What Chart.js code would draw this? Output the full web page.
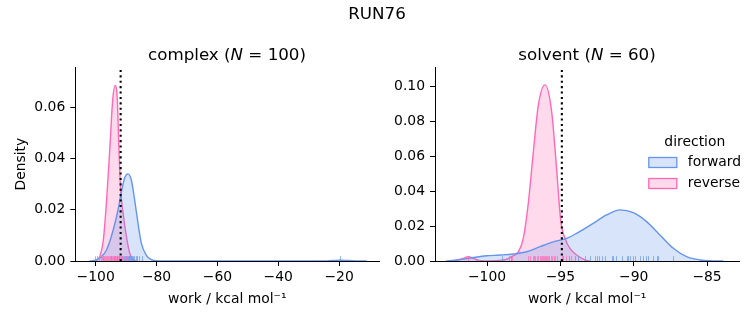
<!DOCTYPE html>
<html><head><meta charset="utf-8">
<script src="https://cdn.jsdelivr.net/npm/chart.js@4/dist/chart.umd.min.js"></script>
<style>
body{margin:0;background:#fff;width:753px;height:325px;overflow:hidden;position:relative;font-family:'DejaVu Sans',sans-serif;}
canvas{position:absolute;top:0;}
.t{position:absolute;transform:translate(-50%,-50%);font-size:16.7px;line-height:1;white-space:nowrap;color:#000;}
</style></head><body>
<canvas id="c1" width="390" height="325" style="left:0"></canvas>
<canvas id="c2" width="363" height="325" style="left:390px"></canvas>
<div class="t" style="left:377px;top:13px">RUN76</div>
<div class="t" style="left:227px;top:54px">complex (<i>N</i> = 100)</div>
<div class="t" style="left:587px;top:54px">solvent (<i>N</i> = 60)</div>
<script>
// ---------- data ----------
const seriesNames = ['forward', 'reverse'];
const suptitle = 'RUN76';

// complex panel: KDE curves
const complexForwardX = [-102, -100, -98.6, -96.45, -94.27, -92.65, -91.55, -90.46, -89.37, -88.28, -87.19, -86.1, -85.0, -83.4, -81.7, -80.1, -78, -28, -25, -22, -19.5, -17, -14, -11];
const complexForwardY = [0, 0.0003, 0.0012, 0.0043, 0.012, 0.020, 0.027, 0.0325, 0.034, 0.0316, 0.0238, 0.0148, 0.0070, 0.0023, 0.0005, 0.0001, 0, 0, 0.00005, 0.0002, 0.0003, 0.0002, 0.00005, 0];
const complexReverseX = [-101, -99.7, -98.6, -97.5, -96.4, -95.4, -94.4, -93.6, -92.9, -92.4, -91.8, -91.0, -89.9, -88.8, -87.7, -86.5];
const complexReverseY = [0, 0.0005, 0.002, 0.008, 0.024, 0.043, 0.063, 0.0685, 0.063, 0.045, 0.028, 0.0187, 0.0095, 0.003, 0.0005, 0];
const complexForwardRug = [-97.5, -95.0, -93.8, -92.9, -92.2, -91.6, -91.2, -90.8, -90.4, -90.1, -89.8, -89.5, -89.2, -88.9, -88.6, -88.3, -88.0, -87.7, -87.3, -86.9, -86.4, -85.8, -84.9, -19.6];
const complexReverseRug = [-100.3, -99.5, -98.9, -98.2, -97.8, -97.4, -97.0, -96.6, -96.3, -96.0, -95.7, -95.4, -95.1, -94.9, -94.6, -94.4, -94.1, -93.9, -93.6, -93.4, -93.1, -92.8, -92.5, -92.2, -91.9, -91.5, -91.0, -90.2];
const complexRef = -91.8;

// solvent panel
const solventForwardX = [-102.8, -102.0, -100.94, -100.03, -99.12, -98.21, -97.3, -96.39, -95.48, -94.57, -93.89, -92.76, -91.85, -90.94, -90.03, -89.12, -88.21, -87.3, -86.39, -85.48, -84.57, -83.9];
const solventForwardY = [0, 0.0006, 0.002, 0.003, 0.0034, 0.004, 0.0053, 0.0082, 0.011, 0.013, 0.0159, 0.0216, 0.0264, 0.0293, 0.0277, 0.0226, 0.0149, 0.0073, 0.0025, 0.0006, 0.0001, 0];
const solventReverseX = [-102.3, -101.62, -101.28, -100.94, -100.48, -99.8, -99.0, -98.66, -98.32, -97.87, -97.53, -97.19, -96.85, -96.51, -96.05, -95.6, -95.25, -94.98, -94.64, -94.35, -93.89, -93.33, -93.0];
const solventReverseY = [0, 0.0015, 0.0025, 0.0015, 0.0002, 0.0001, 0.0005, 0.001, 0.0025, 0.0053, 0.013, 0.033, 0.062, 0.089, 0.101, 0.086, 0.052, 0.0235, 0.012, 0.0073, 0.0034, 0.0006, 0];
const solventForwardRug = [-99.0, -98.4, -94.8, -94.4, -94.0, -93.78, -93.33, -92.98, -92.64, -92.53, -92.35, -92.19, -91.96, -91.51, -91.4, -91.21, -90.82, -90.48, -90.37, -90.26, -90.07, -89.92, -89.58, -89.35, -89.17, -89.01, -88.67, -88.44, -88.33, -87.31];
const solventReverseRug = [-101.3, -98.5, -98.3, -97.2, -97.05, -96.9, -96.8, -96.7, -96.6, -96.5, -96.42, -96.35, -96.28, -96.2, -96.12, -96.05, -95.98, -95.9, -95.82, -95.75, -95.65, -95.55, -95.45, -95.35, -95.2, -94.9, -94.6, -94.3];
const solventRef = -94.9;

// ticks
const complexXTicks = [-100, -80, -60, -40, -20];
const complexYTicks = [0, 0.02, 0.04, 0.06];
const solventXTicks = [-100, -95, -90, -85];
const solventYTicks = [0, 0.02, 0.04, 0.06, 0.08, 0.10];
const xTitle = 'work / kcal mol\u207B\u00B9';
const yTitle = 'Density';
const legendTitle = 'direction';

// ---------- style ----------
const FONT = "'DejaVu Sans', sans-serif";
Chart.defaults.font.family = FONT;
Chart.defaults.color = '#000';
const COL = {forward: {line: 'rgb(100,149,237)', fill: 'rgba(100,149,237,0.25)', rug: 'rgba(100,149,237,0.7)'},
             reverse: {line: 'rgb(255,105,180)', fill: 'rgba(255,105,180,0.25)', rug: 'rgba(255,105,180,0.7)'}};

const zip = (xs, ys) => xs.map((x, i) => ({x, y: ys[i]}));
const fmtX = v => String(v).replace('-', '\u2212');

const overlayPlugin = {
  id: 'overlay',
  afterDatasetsDraw(chart, args, opts) {
    const {ctx, chartArea: a, scales: {x, y}} = chart;
    ctx.save();
    ctx.beginPath(); ctx.rect(a.left, a.top, a.right - a.left, a.bottom - a.top); ctx.clip();
    const h = (a.bottom - a.top) * 0.025;
    ctx.lineWidth = 1;
    for (const r of opts.rugs) {
      ctx.strokeStyle = r.color;
      for (const v of r.values) {
        const px = Math.round(x.getPixelForValue(v)) + 0.5;
        ctx.beginPath(); ctx.moveTo(px, a.bottom); ctx.lineTo(px, a.bottom - h); ctx.stroke();
      }
    }
    // vertical reference line
    const rx = x.getPixelForValue(opts.ref);
    ctx.strokeStyle = '#000'; ctx.lineWidth = 2.1; ctx.setLineDash([2.1, 3.3]);
    ctx.beginPath(); ctx.moveTo(rx, y.getPixelForValue(y.min)); ctx.lineTo(rx, y.getPixelForValue(y.max)); ctx.stroke();
    ctx.restore();
    if (opts.legend) {
      ctx.save();
      const lx = a.right - 90.5, ty = 142;
      ctx.font = '13.9px ' + FONT; ctx.fillStyle = '#000';
      ctx.textAlign = 'center'; ctx.textBaseline = 'middle';
      ctx.fillText(legendTitle, lx + 46, ty);
      seriesNames.forEach((n, i) => {
        const py = ty + 15.5 + i * 21;
        ctx.fillStyle = COL[n].fill; ctx.fillRect(lx, py, 28, 10);
        ctx.strokeStyle = COL[n].line; ctx.lineWidth = 1.3; ctx.strokeRect(lx, py, 28, 10);
        ctx.fillStyle = '#000'; ctx.textAlign = 'left';
        ctx.fillText(n, lx + 39, py + 5);
      });
      ctx.restore();
    }
  }
};

function makeChart(id, cfg) {
  const tickFont = {size: 13.9, family: FONT};
  return new Chart(document.getElementById(id), {
    type: 'line',
    data: {datasets: [
      {label: 'forward', data: zip(cfg.fx, cfg.fy), borderColor: COL.forward.line, backgroundColor: COL.forward.fill, fill: 'origin', borderWidth: 1.4, pointRadius: 0, cubicInterpolationMode: 'monotone'},
      {label: 'reverse', data: zip(cfg.rx, cfg.ry), borderColor: COL.reverse.line, backgroundColor: COL.reverse.fill, fill: 'origin', borderWidth: 1.4, pointRadius: 0, cubicInterpolationMode: 'monotone'}
    ]},
    options: {
      responsive: false, animation: false, devicePixelRatio: 1,
      layout: {padding: {left: 0, top: 67.3, right: cfg.padRight, bottom: 0}},
      plugins: {legend: {display: false}, tooltip: {enabled: false},
        overlay: {rugs: [{values: cfg.fRug, color: COL.forward.rug}, {values: cfg.rRug, color: COL.reverse.rug}], ref: cfg.ref, legend: cfg.legend}},
      scales: {
        x: {type: 'linear', min: cfg.xmin, max: cfg.xmax,
          afterBuildTicks: s => { s.ticks = cfg.xTicks.map(v => ({value: v})); },
          afterFit: s => { s.height = 64; },
          grid: {drawOnChartArea: false, drawTicks: true, tickLength: 5, color: '#000', lineWidth: 1},
          border: {display: true, color: '#000', width: 1},
          ticks: {font: tickFont, padding: 3, maxRotation: 0, autoSkip: false, callback: v => fmtX(v)},
          title: {display: true, text: xTitle, font: tickFont, padding: {top: 0, bottom: 17.3}}},
        y: {type: 'linear', min: 0, max: cfg.ymax,
          afterBuildTicks: s => { s.ticks = cfg.yTicks.map(v => ({value: v})); },
          afterFit: s => { s.width = cfg.yWidth; },
          grid: {drawOnChartArea: false, drawTicks: true, tickLength: 5, color: '#000', lineWidth: 1},
          border: {display: true, color: '#000', width: 1},
          ticks: {font: tickFont, padding: 5, autoSkip: false, callback: v => v.toFixed(2)},
          title: {display: cfg.yTitle, text: yTitle, font: tickFont, padding: {top: 12.7, bottom: 0}}}
      }
    },
    plugins: [overlayPlugin]
  });
}

makeChart('c1', {fx: complexForwardX, fy: complexForwardY, rx: complexReverseX, ry: complexReverseY,
  fRug: complexForwardRug, rRug: complexReverseRug, ref: complexRef,
  xmin: -106.7, xmax: -6.8, ymax: 0.0756, xTicks: complexXTicks, yTicks: complexYTicks,
  yWidth: 75.3, padRight: 10.7, yTitle: true, legend: false});
makeChart('c2', {fx: solventForwardX, fy: solventForwardY, rx: solventReverseX, ry: solventReverseY,
  fRug: solventForwardRug, rRug: solventReverseRug, ref: solventRef,
  xmin: -103.55, xmax: -82.8, ymax: 0.1111, xTicks: solventXTicks, yTicks: solventYTicks,
  yWidth: 45, padRight: 13.7, yTitle: false, legend: true});
</script>
</body></html>
